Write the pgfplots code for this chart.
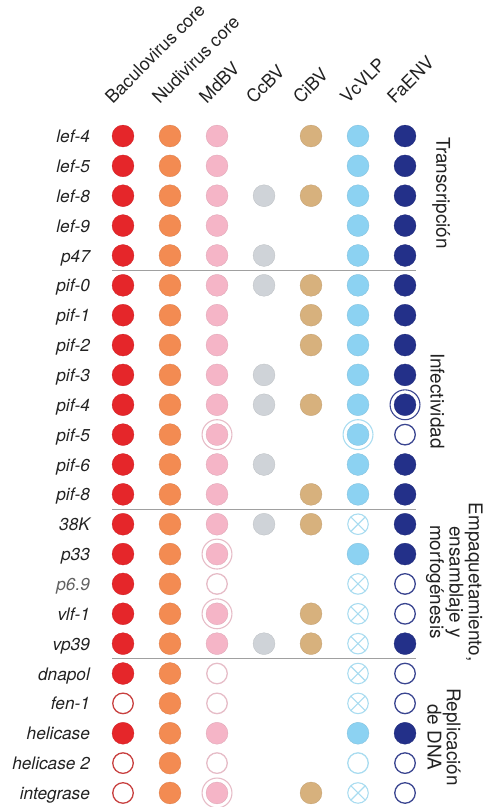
\documentclass[border=0pt]{standalone}
\usepackage{fontspec}
\setmainfont{TeX Gyre Heros}
\usepackage{pgfplots}
\usepackage{pgfplotstable}
\pgfplotsset{compat=1.18}
\definecolor{cRed}{HTML}{E5262A}
\definecolor{cRedE}{HTML}{C8403F}
\definecolor{cOra}{HTML}{F38B52}
\definecolor{cPink}{HTML}{F5B5C7}
\definecolor{cPinkE}{HTML}{E6BCC7}
\definecolor{cGrey}{HTML}{CFD3D8}
\definecolor{cTan}{HTML}{D7B17D}
\definecolor{cBlue}{HTML}{8CD2F2}
\definecolor{cBlueE}{HTML}{A9DCF0}
\definecolor{cNavy}{HTML}{233089}
\definecolor{cNavyE}{HTML}{3A4590}
\definecolor{sepgray}{HTML}{A0A0A0}
\definecolor{txt}{HTML}{222222}

% codes: 0 none, 1 filled, 2 empty, 3 filled + ring, 4 crossed
\pgfplotstableread{
row c0 c1 c2 c3 c4 c5 c6
0 1 1 1 0 1 1 1
1 1 1 1 0 0 1 1
2 1 1 1 1 1 1 1
3 1 1 1 0 0 1 1
4 1 1 1 1 0 1 1
5 1 1 1 1 1 1 1
6 1 1 1 0 1 1 1
7 1 1 1 0 1 1 1
8 1 1 1 1 0 1 1
9 1 1 1 1 1 1 3
10 1 1 3 0 0 3 2
11 1 1 1 1 0 1 1
12 1 1 1 0 1 1 1
13 1 1 1 1 1 4 1
14 1 1 3 0 0 1 1
15 1 1 2 0 0 4 2
16 1 1 3 0 1 4 2
17 1 1 1 1 1 4 1
18 1 1 2 0 0 4 2
19 2 1 2 0 0 4 2
20 1 1 1 0 0 1 1
21 2 1 2 0 0 2 2
22 2 1 3 0 1 4 2
}\codes

\pgfplotsset{
 filled/.style={only marks, mark=*, mark size=11pt, mark options={fill=#1, draw=#1!90!black, line width=0.3pt}},
 hollow/.style={only marks, mark=*, mark size=10.3pt, mark options={fill=white, draw=#1, line width=1.3pt}},
 ring/.style={only marks, mark=o, mark size=15pt, mark options={draw=#1, line width=1.1pt}},
 crossed/.style={only marks, mark=otimes, mark size=10.3pt, mark options={draw=#1, line width=1.1pt}},
}
\tikzset{
  rowlab/.style={anchor=base east, font=\fontsize{17.3}{19}\selectfont\itshape, text=txt, inner sep=0pt},
  collab/.style={anchor=base west, rotate=45, font=\fontsize{18}{19}\selectfont, text=txt, inner sep=0pt},
  grplab/.style={anchor=center, rotate=-90, align=center, font=\fontsize{19}{19.5}\selectfont, text=txt, inner sep=0pt},
}
\newcommand\cellplot[4]{\addplot[#4] table[x expr=#1, y=row, restrict expr to domain={\thisrow{c#1}}{#2:#3}] {\codes};}

\begin{document}
\begin{tikzpicture}
\begin{axis}[name=ax,
  width=486bp, height=807bp, scale only axis, hide axis, clip=false,
  xmin=-2.617, xmax=7.723, ymin=-4.555, ymax=22.47, y dir=reverse,
]
\path (rel axis cs:0,0) rectangle (rel axis cs:1,1);
% separators
\addplot[no marks, draw=sepgray, line width=1pt] coordinates {(-0.23,4.5) (6.23,4.5)};
\addplot[no marks, draw=sepgray, line width=1pt] coordinates {(-0.23,12.5) (6.23,12.5)};
\addplot[no marks, draw=sepgray, line width=1pt] coordinates {(-0.23,17.5) (6.23,17.5)};
% Baculovirus core
\cellplot{0}{0.9}{1.1}{filled=cRed}
\cellplot{0}{1.9}{2.1}{hollow=cRedE}
% Nudivirus core
\cellplot{1}{0.9}{1.1}{filled=cOra}
% MdBV
\cellplot{2}{0.9}{1.1}{filled=cPink}
\cellplot{2}{2.9}{3.1}{filled=cPink}
\cellplot{2}{2.9}{3.1}{ring=cPinkE}
\cellplot{2}{1.9}{2.1}{hollow=cPinkE}
% CcBV
\cellplot{3}{0.9}{1.1}{filled=cGrey}
% CiBV
\cellplot{4}{0.9}{1.1}{filled=cTan}
% VcVLP
\cellplot{5}{0.9}{1.1}{filled=cBlue}
\cellplot{5}{2.9}{3.1}{filled=cBlue}
\cellplot{5}{2.9}{3.1}{ring=cBlueE}
\cellplot{5}{1.9}{2.1}{hollow=cBlueE}
\cellplot{5}{3.9}{4.1}{crossed=cBlueE}
% FaENV
\cellplot{6}{0.9}{1.1}{filled=cNavy}
\cellplot{6}{2.9}{3.1}{filled=cNavy}
\cellplot{6}{2.9}{3.1}{ring=cNavyE}
\cellplot{6}{1.9}{2.1}{hollow=cNavyE}
% column labels
\node[collab] at (axis cs:-0.22,-1.05) {Baculovirus core};
\node[collab] at (axis cs:0.78,-1.05) {Nudivirus core};
\node[collab] at (axis cs:1.78,-1.05) {MdBV};
\node[collab] at (axis cs:2.78,-1.05) {CcBV};
\node[collab] at (axis cs:3.78,-1.05) {CiBV};
\node[collab] at (axis cs:4.78,-1.05) {VcVLP};
\node[collab] at (axis cs:5.78,-1.05) {FaENV};
% row labels
\node[rowlab] at (axis cs:-0.70,0.22) {lef-4};
\node[rowlab] at (axis cs:-0.70,1.22) {lef-5};
\node[rowlab] at (axis cs:-0.70,2.22) {lef-8};
\node[rowlab] at (axis cs:-0.70,3.22) {lef-9};
\node[rowlab] at (axis cs:-0.70,4.22) {p47};
\node[rowlab] at (axis cs:-0.70,5.22) {pif-0};
\node[rowlab] at (axis cs:-0.70,6.22) {pif-1};
\node[rowlab] at (axis cs:-0.70,7.22) {pif-2};
\node[rowlab] at (axis cs:-0.70,8.22) {pif-3};
\node[rowlab] at (axis cs:-0.70,9.22) {pif-4};
\node[rowlab] at (axis cs:-0.70,10.22) {pif-5};
\node[rowlab] at (axis cs:-0.70,11.22) {pif-6};
\node[rowlab] at (axis cs:-0.70,12.22) {pif-8};
\node[rowlab] at (axis cs:-0.70,13.22) {38K};
\node[rowlab] at (axis cs:-0.70,14.22) {p33};
\node[rowlab, text=black!62] at (axis cs:-0.70,15.22) {p6.9};
\node[rowlab] at (axis cs:-0.70,16.22) {vlf-1};
\node[rowlab] at (axis cs:-0.70,17.22) {vp39};
\node[rowlab] at (axis cs:-0.70,18.22) {dnapol};
\node[rowlab] at (axis cs:-0.70,19.22) {fen-1};
\node[rowlab] at (axis cs:-0.70,20.22) {helicase};
\node[rowlab] at (axis cs:-0.70,21.22) {helicase 2};
\node[rowlab] at (axis cs:-0.70,22.22) {integrase};
% group labels
\node[grplab] at (axis cs:6.77,1.91) {Transcripción};
\node[grplab] at (axis cs:6.69,8.87) {Infectividad};
\node[grplab] at (axis cs:7.05,14.94) {Empaquetamiento,\\ensamblaje y\\morfogénesis};
\node[grplab] at (axis cs:6.83,20.13) {Replicación\\de DNA};
\end{axis}
\pgfresetboundingbox
\path[use as bounding box] (ax.south west) rectangle (ax.north east);
\end{tikzpicture}
\end{document}
